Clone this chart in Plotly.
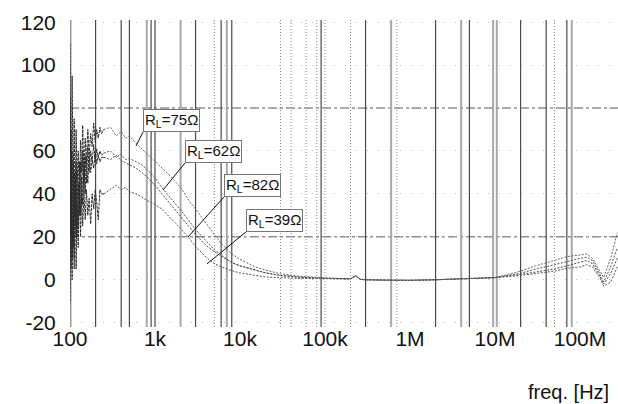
import numpy as np
import plotly.graph_objects as go

# ---------------- data ----------------
F_LOW = [100, 103, 106, 109, 112, 115, 118, 121, 125, 129, 133, 137, 141, 146, 151,
         156, 162, 168, 175, 182, 190, 198, 206, 215, 225, 235]
F_MAIN = [250, 300, 350, 400, 450, 500, 600, 700, 800, 1000, 1200, 1500, 2000, 2500, 3000,
          4000, 5000, 6000, 8000, 10000, 15000, 20000, 30000, 50000,
          1e5, 1.5e5, 2e5, 2.3e5, 2.6e5, 3e5, 5e5, 1e6, 2e6, 3e6, 5e6,
          1e7, 2e7, 3e7, 5e7, 7e7, 1e8, 1.2e8, 1.4e8, 1.7e8, 1.9e8, 2.3e8, 2.75e8]

R75_LOW = [85, 20, 95, 40, 75, 30, 70, 45, 60, 35, 65, 50, 72, 48, 66, 55, 70, 58, 68, 62, 73, 64, 70, 66, 71, 68]
R62_LOW = [110, 5, 60, 15, 50, 25, 55, 20, 45, 30, 55, 35, 60, 40, 58, 45, 62, 50, 60, 55, 63, 55, 61, 57, 60, 58]
R82_LOW = [-10, 70, 10, 55, 5, 45, 20, 50, 25, 55, 30, 48, 35, 55, 40, 56, 45, 58, 50, 56, 52, 59, 54, 58, 55, 57]
R39_LOW = [15, 60, 0, 40, 10, 50, 5, 35, 15, 45, 20, 38, 25, 40, 28, 42, 30, 38, 26, 40, 33, 42, 36, 28, 42, 40]

R75_MAIN = [70, 71, 67, 69, 66, 67, 63.5, 61, 59, 55.5, 52.5, 48.5, 43, 37, 33, 26, 21, 17, 12, 9.5,
            6, 4.5, 2.8, 1.6, 0.8, 0.6, 0.5, 2, 0.3, 0, -0.2, -0.2, 0, 0.3, 0.5,
            1, 4, 6.5, 9, 10.8, 11.5, 12, 10, 4, 1, 10, 22]
R62_MAIN = [59, 60, 57, 58.5, 56, 56.5, 55, 53.5, 51.5, 47.5, 43, 38.5, 32.5, 27.5, 23.5, 18, 14, 11.5, 8, 6.5,
            4.5, 3.2, 2, 1.2, 0.7, 0.5, 0.4, 1.8, 0.2, 0, -0.2, -0.3, 0, 0.2, 0.5,
            1, 3, 5, 7, 8.5, 10, 10.5, 9, 3, -1, 6, 15]
R82_MAIN = [57, 56, 58, 55.5, 54.5, 53.5, 52, 50, 48, 44, 40, 35.5, 29.5, 25, 21, 16, 13, 11, 8, 6.5,
            4.5, 3.2, 2, 1.2, 0.6, 0.5, 0.4, 1.8, 0.2, 0, -0.2, -0.3, 0, 0.2, 0.4,
            1, 2.5, 3.5, 5, 6.5, 8, 9, 7.5, 2, -2, 3, 10]
R39_MAIN = [40, 42, 44, 42, 43, 41, 40, 38.5, 37, 35, 33, 29, 24, 19.5, 15.5, 10.5, 7.5, 6, 4.2, 3.2,
            2, 1.3, 1, 0.6, 0.5, 0.4, 0.4, 1.8, 0.2, 0, -0.2, -0.3, 0, 0.2, 0.4,
            1, 2, 3, 4, 5.3, 6, 7, 6, 1, -3, -1, 6]

SERIES = [("R<sub>L</sub>=75Ω", R75_LOW, R75_MAIN),
          ("R<sub>L</sub>=62Ω", R62_LOW, R62_MAIN),
          ("R<sub>L</sub>=82Ω", R82_LOW, R82_MAIN),
          ("R<sub>L</sub>=39Ω", R39_LOW, R39_MAIN)]

TICK_VALS = [1e2, 1e3, 1e4, 1e5, 1e6, 1e7, 1e8]
TICK_TEXT = ["100", "1k", "10k", "100k", "1M", "10M", "100M"]
Y_TICKS = [-20, 0, 20, 40, 60, 80, 100, 120]
Y_TICK_TEXT = ["-20", "0", "20", "40", "60", "80", "100", "120"]

# grid lines as they appear on the scanned sheet (frequency, style)
GRID_DARK = [200, 400, 500, 900, 1000, 3000, 6000, 8000, 9e4, 3e5, 2e6, 5e6, 2e7, 4e7, 7e7]
GRID_GREY = [800, 2000, 7000, 6e5, 4e6, 9.5e6, 1.05e7, 8e7]
GRID_DOT = [5000, 3e4, 4e4, 6e4, 8e4, 1e5, 2e5, 7e5, 5e7]
GRID_EDGE = [100]

# labels: (series text, tip frequency, tip value, tail offset px)
LABELS = [("R<sub>L</sub>=75Ω", 598, 62.3, 7, -14),
          ("R<sub>L</sub>=62Ω", 1242, 41.8, 22, -27),
          ("R<sub>L</sub>=82Ω", 2443, 19.9, 36, -40),
          ("R<sub>L</sub>=39Ω", 4094, 7.4, 39, -32)]

Y_MIN, Y_MAX = -22, 121

fig = go.Figure()


def vlines(freqs, color, width, dash="solid"):
    xs, ys = [], []
    for f in freqs:
        xs += [f, f, None]
        ys += [Y_MIN, Y_MAX, None]
    fig.add_trace(go.Scatter(x=xs, y=ys, mode="lines", hoverinfo="skip", showlegend=False,
                             line=dict(color=color, width=width, dash=dash)))


vlines(GRID_DOT, "#8a8a8a", 1, "1px,2px")
vlines(GRID_GREY, "#a8a8a8", 2)
vlines(GRID_DARK, "#4a4a4a", 1.2)
vlines(GRID_EDGE, "#999999", 3)

line_colors = ["#666666", "#555555", "#4a4a4a", "#555555"]
for (name, low, main), c in zip(SERIES, line_colors):
    # main curve
    fig.add_trace(go.Scatter(x=F_MAIN, y=main, mode="lines", name=name, showlegend=False,
                             line=dict(color=c, width=1, dash="2px,1.5px")))
    # noisy low-frequency start (darker on the original)
    fig.add_trace(go.Scatter(x=F_LOW + F_MAIN[:1], y=low + main[:1], mode="lines", name=name,
                             showlegend=False,
                             line=dict(color="#2a2a2a", width=1, dash="3px,1px")))

shapes = []
for yv in [80, 20]:
    shapes.append(dict(type="line", xref="paper", x0=0, x1=1, yref="y", y0=yv, y1=yv,
                       line=dict(color="#555555", width=1, dash="dashdot"), layer="below"))

annotations = []
for text, f, v, ax, ay in LABELS:
    annotations.append(dict(x=np.log10(f), y=v, xref="x", yref="y", text=text,
                            showarrow=True, arrowhead=0, arrowwidth=1, arrowcolor="#111111",
                            ax=ax, ay=ay, axref="pixel", ayref="pixel",
                            xanchor="left", yanchor="bottom",
                            font=dict(family="Liberation Sans, Arial", size=15, color="#111111"),
                            bgcolor="white", bordercolor="#777777", borderwidth=1, borderpad=1))
annotations.append(dict(xref="paper", yref="paper", x=1, y=-0.212, xanchor="right", yanchor="middle",
                        xshift=-7, text="freq. [Hz]", showarrow=False,
                        font=dict(family="Liberation Sans, Arial", size=20, color="#111111")))

fig.update_layout(
    width=618, height=404,
    margin=dict(l=70, r=0, t=20, b=77),
    paper_bgcolor="white", plot_bgcolor="white",
    font=dict(family="Liberation Sans, Arial", size=21, color="#111111"),
    shapes=shapes, annotations=annotations,
    xaxis=dict(type="log", range=[2, 8.447], tickvals=TICK_VALS, ticktext=TICK_TEXT,
               showgrid=False, zeroline=False, showline=False,
               ticks="", ticklabelstandoff=-3),
    yaxis=dict(range=[Y_MIN, Y_MAX], tickvals=Y_TICKS, ticktext=Y_TICK_TEXT, showgrid=True,
               gridcolor="#bbbbbb", griddash="1px,10px", gridwidth=1,
               zeroline=False, showline=False,
               ticks="outside", ticklen=9, tickcolor="rgba(0,0,0,0)"),
)

fig.write_html("out.html", config={"displayModeBar": False},
               post_script="document.body.style.margin='0';document.body.style.overflow='hidden';")
